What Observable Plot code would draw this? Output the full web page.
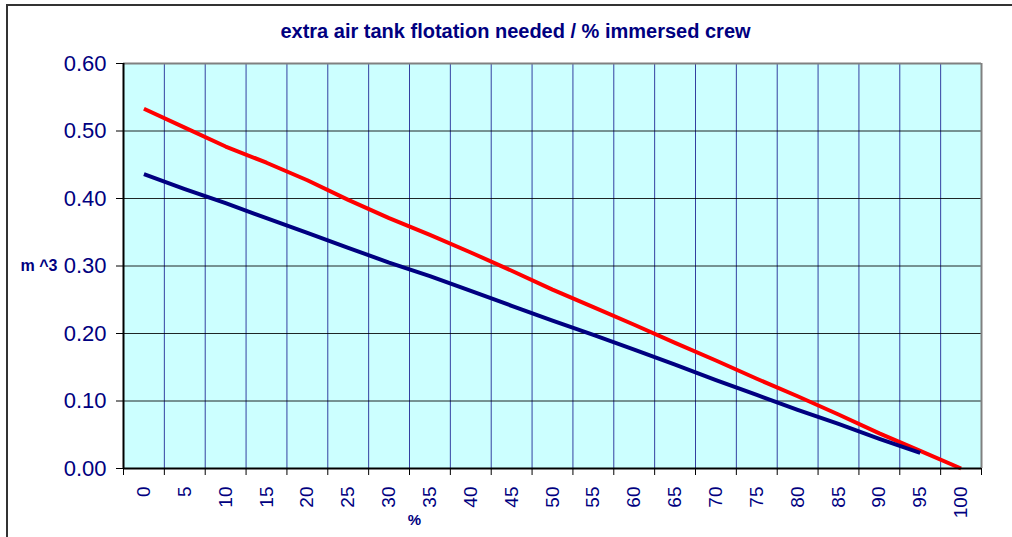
<!DOCTYPE html>
<html><head><meta charset="utf-8">
<script src="https://cdn.jsdelivr.net/npm/d3@7"></script>
<script src="https://cdn.jsdelivr.net/npm/@observablehq/plot@0.6"></script>
<style>
body{margin:0;background:#fff;}
#wrap{position:relative;width:1012px;height:537px;overflow:hidden;font-family:Arial,"Liberation Sans",sans-serif;}
#border{position:absolute;left:6px;top:4px;width:1100px;height:600px;border:2px solid #333;box-sizing:border-box;}
#chart{position:absolute;left:0;top:0;}
</style></head><body>
<div id="wrap"><div id="border"></div><div id="chart"></div></div>
<script>
const percents = [0,5,10,15,20,25,30,35,40,45,50,55,60,65,70,75,80,85,90,95,100];
const upperValues = [0.533,0.505,0.477,0.453,0.427,0.398,0.371,0.346,0.320,0.293,0.265,0.239,0.213,0.186,0.160,0.133,0.107,0.080,0.052,0.026,0.000];
const lowerValues = [0.436,0.414,0.393,0.371,0.349,0.327,0.305,0.285,0.263,0.241,0.219,0.198,0.176,0.154,0.131,0.109,0.087,0.066,0.044,0.023,null];
const seriesNames = ["upper", "lower"];
const seriesColors = ["#ff0000", "#000080"];
const yTicks = [0,0.1,0.2,0.3,0.4,0.5,0.6];
const title = "extra air tank flotation needed / % immersed crew";
const yLabel = "m ^3";
const xLabel = "%";

const navy = "#000080";
const rows = [];
percents.forEach((p, i) => {
  rows.push({pct: p, value: upperValues[i], series: seriesNames[0]});
  if (lowerValues[i] != null) rows.push({pct: p, value: lowerValues[i], series: seriesNames[1]});
});
const half = 2.5;
const boundaries = percents.map(p => p - half).concat([percents[percents.length - 1] + half]);
const inner = boundaries.slice(1, -1);

const chart = Plot.plot({
  width: 1012,
  height: 537,
  marginLeft: 123,
  marginRight: 31,
  marginTop: 63,
  marginBottom: 69,
  style: {fontFamily: "Arial, 'Liberation Sans', sans-serif", background: "transparent", overflow: "visible"},
  x: {type: "linear", domain: [boundaries[0], boundaries[boundaries.length - 1]]},
  y: {domain: [0, 0.6]},
  color: {domain: seriesNames, range: seriesColors},
  marks: [
    Plot.frame({fill: "#ccffff", stroke: null}),
    Plot.ruleX(inner, {stroke: navy, strokeOpacity: 0.75}),
    Plot.ruleY(yTicks.slice(1, -1), {stroke: "#000", strokeOpacity: 0.85}),
    Plot.ruleY([yTicks[yTicks.length - 1]], {stroke: "#808080", strokeWidth: 2}),
    Plot.ruleX([boundaries[boundaries.length - 1]], {stroke: "#808080", strokeWidth: 2}),
    Plot.line(rows, {x: "pct", y: "value", z: "series", stroke: "series", strokeWidth: 4, strokeLinejoin: "round", strokeLinecap: "butt"}),
    Plot.ruleX([boundaries[0]], {stroke: "#000", strokeWidth: 2}),
    Plot.ruleY([0], {stroke: "#000", strokeWidth: 2}),
    Plot.axisY(yTicks, {tickSize: 7, tickPadding: 10, tickFormat: d => d.toFixed(2), fontSize: 22, fill: navy, stroke: "#000", label: null}),
    Plot.axisX(boundaries, {tickSize: 7, tickFormat: () => "", stroke: "#000", label: null}),
    Plot.axisX(percents, {tickSize: 0, tickPadding: 18, tickRotate: -90, tickFormat: d => String(d), fontSize: 19, fill: navy, label: null}),
    Plot.text([title], {frameAnchor: "top", lineAnchor: "middle", dy: -32, dx: -37, fontSize: 20, fontWeight: "bold", fill: navy}),
    Plot.text([yLabel], {frameAnchor: "left", lineAnchor: "middle", dx: -103, textAnchor: "start", fontSize: 16, fontWeight: "bold", fill: navy}),
    Plot.text([xLabel], {frameAnchor: "bottom", lineAnchor: "middle", dx: -138, dy: 52, fontSize: 15, fontWeight: "bold", fill: navy})
  ]
});
document.getElementById("chart").appendChild(chart);
</script>
</body></html>
